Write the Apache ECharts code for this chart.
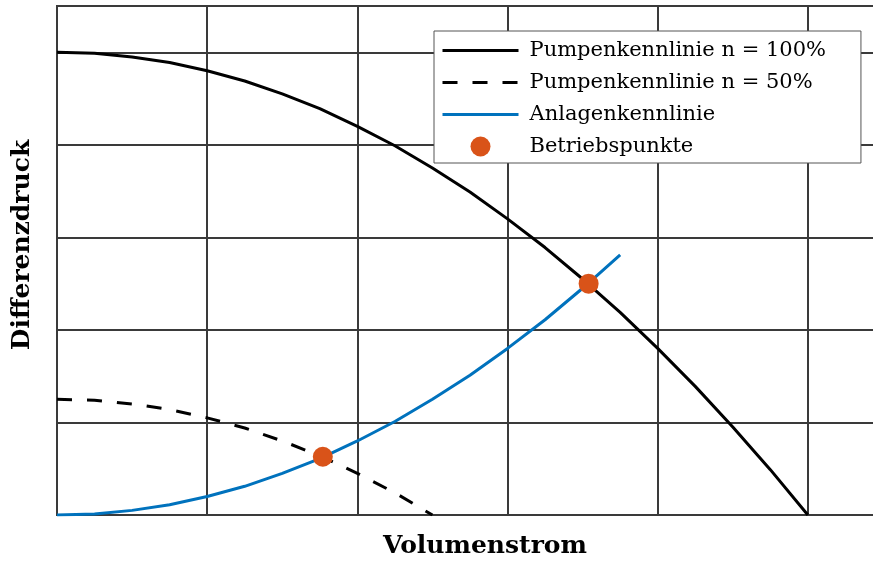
<!DOCTYPE html>
<html>
<head>
<meta charset="utf-8">
<script src="https://cdn.jsdelivr.net/npm/echarts@6/dist/echarts.min.js"></script>
<style>
  html, body { margin: 0; padding: 0; background: #fff; }
  #chart { width: 873px; height: 563px; }
</style>
</head>
<body>
<div id="chart"></div>
<script>
// Volumenstrom values (Q) and Differenzdruck values (H) for each curve
const qPump100 = [0, 0.25, 0.5, 0.75, 1, 1.25, 1.5, 1.75, 2, 2.25, 2.5, 2.75, 3, 3.25, 3.5, 3.75, 4, 4.25, 4.5, 4.75, 5];
const hPump100 = [5.00, 4.99, 4.95, 4.89, 4.80, 4.69, 4.55, 4.39, 4.20, 3.99, 3.75, 3.49, 3.20, 2.89, 2.55, 2.19, 1.80, 1.39, 0.95, 0.49, 0.00];

const qPump50 = [0, 0.25, 0.5, 0.75, 1, 1.25, 1.5, 1.75, 2, 2.25, 2.5];
const hPump50 = [1.25, 1.24, 1.20, 1.14, 1.05, 0.94, 0.80, 0.64, 0.45, 0.24, 0.00];

const qAnlage = [0, 0.25, 0.5, 0.75, 1, 1.25, 1.5, 1.75, 2, 2.25, 2.5, 2.75, 3, 3.25, 3.5, 3.75];
const hAnlage = [0, 0.01, 0.05, 0.11, 0.20, 0.31, 0.45, 0.61, 0.80, 1.01, 1.25, 1.51, 1.80, 2.11, 2.45, 2.81];

const qBetrieb = [1.77, 3.54];
const hBetrieb = [0.63, 2.50];

const seriesNames = ['Pumpenkennlinie n = 100%', 'Pumpenkennlinie n = 50%', 'Anlagenkennlinie', 'Betriebspunkte'];

const pairs = (xs, ys) => xs.map((x, i) => [x, ys[i]]);

const serif = 'DejaVu Serif';
const gridColor = '#3a3a3a';
const dash = [15, 15];

const chart = echarts.init(document.getElementById('chart'), null, { renderer: 'canvas' });

chart.setOption({
  animation: false,
  backgroundColor: '#ffffff',
  grid: {
    left: 57,
    top: 6,
    bottom: 48,
    right: -40,
    outerBoundsMode: 'none',
    show: true,
    borderColor: gridColor,
    borderWidth: 2,
    backgroundColor: 'transparent',
    containLabel: false
  },
  xAxis: {
    type: 'value',
    min: 0,
    max: 5.7,
    interval: 1,
    name: 'Volumenstrom',
    nameLocation: 'middle',
    nameGap: 19,
    nameTextStyle: { fontFamily: serif, fontWeight: 'bold', fontSize: 25, color: '#000' },
    axisLine: { show: true, lineStyle: { color: gridColor, width: 2 } },
    axisTick: { show: false },
    axisLabel: { show: false },
    splitLine: { show: true, lineStyle: { color: gridColor, width: 2 } }
  },
  yAxis: {
    type: 'value',
    min: 0,
    max: 5.5,
    interval: 1,
    name: 'Differenzdruck',
    nameLocation: 'middle',
    nameGap: 22,
    nameTextStyle: { fontFamily: serif, fontWeight: 'bold', fontSize: 25, color: '#000', padding: [0, 0, 0, 31] },
    axisLine: { show: true, lineStyle: { color: gridColor, width: 2 } },
    axisTick: { show: false },
    axisLabel: { show: false },
    splitLine: { show: true, lineStyle: { color: gridColor, width: 2 } }
  },
  legend: {
    orient: 'vertical',
    left: 434,
    top: 31,
    itemWidth: 76,
    itemHeight: 20,
    itemGap: 11,
    padding: [9, 35, 6, 7],
    backgroundColor: '#ffffff',
    borderColor: '#555555',
    borderWidth: 1,
    textStyle: { fontFamily: serif, fontSize: 21, color: '#000', padding: [0, 0, 0, 6] },
    data: [
      { name: seriesNames[0], itemStyle: { opacity: 0 }, lineStyle: { width: 3, color: '#000000' } },
      { name: seriesNames[1], itemStyle: { opacity: 0 }, lineStyle: { width: 3, color: '#000000', type: dash } },
      { name: seriesNames[2], itemStyle: { opacity: 0 }, lineStyle: { width: 3, color: '#0072BD' } },
      { name: seriesNames[3] }
    ]
  },
  series: [
    {
      name: seriesNames[0],
      type: 'line',
      symbol: 'none',
      data: pairs(qPump100, hPump100),
      lineStyle: { color: '#000000', width: 3 },
      itemStyle: { color: '#000000' },
      z: 3
    },
    {
      name: seriesNames[1],
      type: 'line',
      symbol: 'none',
      data: pairs(qPump50, hPump50),
      lineStyle: { color: '#000000', width: 3, type: dash },
      itemStyle: { color: '#000000' },
      z: 3
    },
    {
      name: seriesNames[2],
      type: 'line',
      symbol: 'none',
      data: pairs(qAnlage, hAnlage),
      lineStyle: { color: '#0072BD', width: 3 },
      itemStyle: { color: '#0072BD' },
      z: 4
    },
    {
      name: seriesNames[3],
      type: 'scatter',
      symbol: 'circle',
      symbolSize: 20,
      data: pairs(qBetrieb, hBetrieb),
      itemStyle: { color: '#D95319', opacity: 1 },
      z: 5
    }
  ]
});
</script>
</body>
</html>
